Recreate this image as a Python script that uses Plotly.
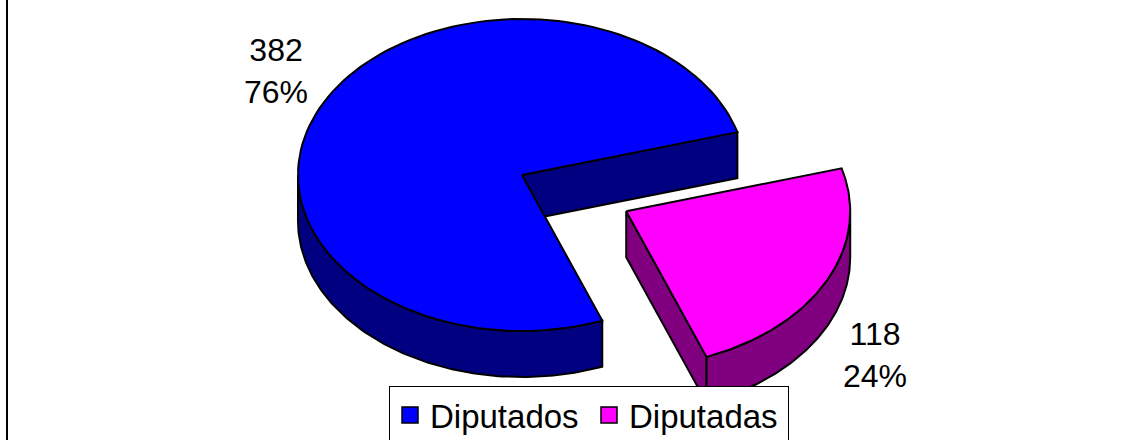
import numpy as np
import plotly.graph_objects as go

# ---- data ----
labels = ["Diputados", "Diputadas"]
values = [382, 118]
top_colors = ["#0000FF", "#FF00FF"]
side_colors = ["#000080", "#800080"]
explode = [0.0, 0.52]

# ---- 3D pie geometry (pixel space) ----
W, H = 1139, 440
cx, cy = 522, 175
rx, ry = 224, 156
depth = 46
first_angle = 159  # degrees, clockwise from 12 o'clock (Excel style)

total = sum(values)
fracs = [v / total for v in values]

def pt(t, ox, oy, dz=0.0):
    return ox + rx * np.cos(np.radians(t)), oy - ry * np.sin(np.radians(t)) + dz

slices = []
a = 90 - first_angle  # math angle of start; go clockwise (decreasing)
for i, f in enumerate(fracs):
    sweep = 360 * f
    hi = a
    lo = a - sweep
    a = lo
    shift = -360 * np.floor(lo / 360)
    lo += shift
    hi += shift
    mid = (lo + hi) / 2
    ox = cx + explode[i] * rx * np.cos(np.radians(mid))
    oy = cy - explode[i] * ry * np.sin(np.radians(mid))
    slices.append(dict(lo=lo, hi=hi, mid=mid, ox=ox, oy=oy))

fig = go.Figure()

def add_poly(xs, ys, color, name):
    fig.add_trace(go.Scatter(x=list(xs) + [xs[0]], y=list(ys) + [ys[0]], mode="lines",
                             fill="toself", fillcolor=color,
                             line=dict(color="black", width=2),
                             showlegend=False, hoverinfo="text", text=name))

def arc(t0, t1, ox, oy, dz=0.0, n=120):
    ts = np.linspace(t0, t1, n)
    xs = ox + rx * np.cos(np.radians(ts))
    ys = oy - ry * np.sin(np.radians(ts)) + dz
    return list(xs), list(ys)

for i, s in enumerate(slices):
    lo, hi, ox, oy = s["lo"], s["hi"], s["ox"], s["oy"]
    name = f"{labels[i]}: {values[i]}"
    # radial walls
    for theta, side in ((lo, "inc"), (hi, "dec")):
        c = np.cos(np.radians(theta))
        visible = c > 0 if side == "inc" else c < 0
        if visible:
            ex, ey = pt(theta, ox, oy)
            add_poly([ox, ex, ex, ox], [oy, ey, ey + depth, oy + depth], side_colors[i], name)
    # outer wall on front half
    for f0, f1 in ((180, 360), (540, 720)):
        a0, a1 = max(lo, f0), min(hi, f1)
        if a1 > a0:
            tx, ty = arc(a0, a1, ox, oy)
            bx, by = arc(a0, a1, ox, oy, depth)
            add_poly(tx + bx[::-1], ty + by[::-1], side_colors[i], name)
    # top face
    ax_, ay_ = arc(lo, hi, ox, oy)
    add_poly([ox] + ax_, [oy] + ay_, top_colors[i], name)

# legend entries
for i in range(len(labels)):
    fig.add_trace(go.Scatter(x=[None], y=[None], mode="markers", name=labels[i],
                             marker=dict(symbol="square", size=16, color=top_colors[i],
                                         line=dict(color="black", width=1.5))))

# data labels (placed off the slice bisectors)
s0, s1 = slices
lx, ly = pt(s0["mid"], s0["ox"], s0["oy"])
fig.add_annotation(x=lx, y=ly, text=f"{values[0]}<br>{round(fracs[0]*100)}%", showarrow=False,
                   xanchor="center", yanchor="middle", xshift=276 - lx, yshift=ly - 71,
                   font=dict(size=32, color="black"), align="center")
lx, ly = pt(s1["mid"], s1["ox"], s1["oy"])
fig.add_annotation(x=lx, y=ly, text=f"{values[1]}<br>{round(fracs[1]*100)}%", showarrow=False,
                   xanchor="center", yanchor="middle", xshift=875 - lx, yshift=ly - 355,
                   font=dict(size=32, color="black"), align="center")

# left border line of the chart area
fig.add_shape(type="line", xref="paper", yref="paper", x0=7 / W, x1=7 / W, y0=0, y1=1,
              line=dict(color="black", width=2))

fig.update_layout(
    width=W, height=H,
    margin=dict(l=0, r=0, t=0, b=0, autoexpand=False),
    paper_bgcolor="white", plot_bgcolor="white",
    xaxis=dict(range=[0, W], visible=False, fixedrange=True, domain=[0, 1]),
    yaxis=dict(range=[H, 0], visible=False, fixedrange=True, domain=[0, 1]),
    font=dict(family="Liberation Sans, Arial, sans-serif", size=33, color="black"),
    showlegend=True,
    legend=dict(orientation="h", x=389 / W, xanchor="left", y=1 - 386 / H, yanchor="top",
                bgcolor="white", bordercolor="black", borderwidth=1,
                font=dict(size=33), itemwidth=30, entrywidth=154, entrywidthmode="pixels",
                tracegroupgap=0),
)

fig.write_html("out.html", config={"displayModeBar": False},
               post_script="document.body.style.margin='0px';document.body.style.overflow='hidden';")
